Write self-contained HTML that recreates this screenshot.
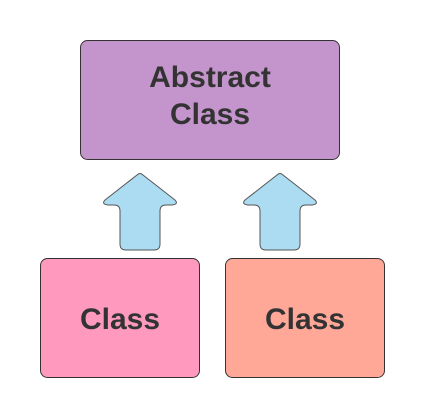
<!DOCTYPE html>
<html><head><style>
html,body{margin:0;padding:0;background:#fff;width:425px;height:418px;overflow:hidden}
</style></head><body>
<svg width="425" height="418" xmlns="http://www.w3.org/2000/svg" style="font-family:'Liberation Sans',sans-serif;font-weight:bold">
<rect x="80.5" y="40.5" width="259" height="119" rx="7" fill="#c495cc" stroke="#333" stroke-width="1"/>
<text x="210" y="87" font-size="30" text-anchor="middle" fill="#333">Abstract</text>
<text x="210" y="124" font-size="30" text-anchor="middle" fill="#333">Class</text>
<rect x="40.5" y="258.5" width="159" height="119" rx="7" fill="#ff99bd" stroke="#333" stroke-width="1"/>
<text x="120" y="329" font-size="30" text-anchor="middle" fill="#333">Class</text>
<rect x="225.5" y="258.5" width="159" height="119" rx="7" fill="#ffa898" stroke="#333" stroke-width="1"/>
<text x="305" y="329" font-size="30" text-anchor="middle" fill="#333">Class</text>
<g fill="#acdcf1" stroke="#555" stroke-width="1" stroke-linejoin="round">
<path d="M137,175 Q140,172 143,175 L175,200 Q179,204 172,205 L166,205 Q160,205 160,211 L160,244 Q160,250 154,250 L126,250 Q120,250 120,244 L120,211 Q120,205 114,205 L108,205 Q101,204 105,200 Z"/>
<path d="M277,175 Q280,172 283,175 L315,200 Q319,204 312,205 L306,205 Q300,205 300,211 L300,244 Q300,250 294,250 L266,250 Q260,250 260,244 L260,211 Q260,205 254,205 L248,205 Q241,204 245,200 Z"/>
</g>
</svg>
</body></html>
